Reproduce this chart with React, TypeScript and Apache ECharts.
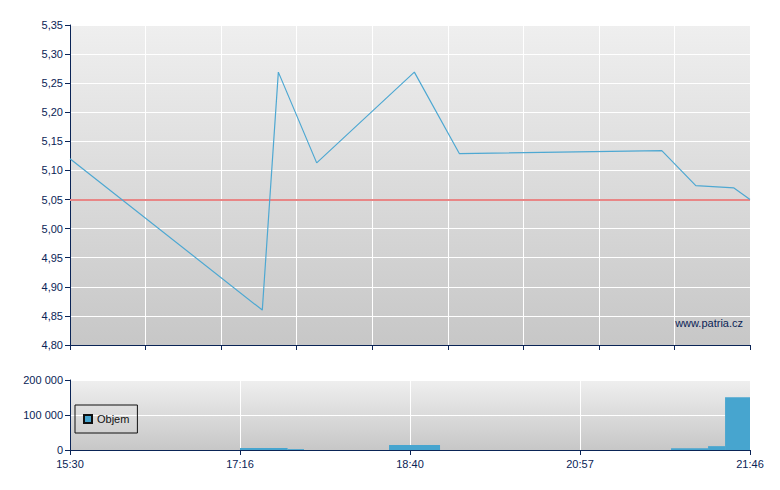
import React, { useEffect, useRef } from "react";
import * as echarts from "echarts";

// price line (x = position slot on the intraday axis, 0..36)
const priceX = [0, 10.18, 11.03, 13.06, 18.23, 20.61, 31.33, 33.13, 35.15, 36];
const priceY = [5.12, 4.86, 5.269, 5.113, 5.269, 5.129, 5.134, 5.074, 5.07, 5.05];
const referencePrice = 5.05;

// volume bars (start slot, end slot, volume)
const volStart = [9.0, 11.52, 16.89, 31.82, 33.78, 34.68];
const volEnd = [11.52, 12.39, 19.59, 33.78, 34.68, 36];
const volume = [5500, 2500, 14000, 5000, 11000, 151000];

const timeLabels = ["15:30", "17:16", "18:40", "20:57", "21:46"];

const NAVY = "#0a2456";
const FONT = "Liberation Sans";

export default function App() {
  const ref = useRef<HTMLDivElement>(null);
  useEffect(() => {
    if (!ref.current) return;
    const chart = echarts.init(ref.current, undefined, { renderer: "svg" });
    const bg = new echarts.graphic.LinearGradient(0, 0, 0, 1, [
      { offset: 0, color: "#efefef" },
      { offset: 1, color: "#c7c7c7" },
    ]);
    const bg2 = new echarts.graphic.LinearGradient(0, 0, 0, 1, [
      { offset: 0, color: "#efefef" },
      { offset: 1, color: "#c7c7c7" },
    ]);
    const axisLabelStyle = { color: NAVY, fontFamily: FONT, fontSize: 11 };
    const lineData = priceX.map((x, i) => [x, priceY[i]]);
    const volData = volume.map((v, i) => [volStart[i], volEnd[i], v]);
    chart.setOption({
      animation: false,
      textStyle: { fontFamily: FONT },
      grid: [
        { left: 70, right: 30, top: 25, height: 320, show: true, backgroundColor: bg, borderWidth: 0 },
        { left: 70, right: 30, top: 380, height: 70, show: true, backgroundColor: bg2, borderWidth: 0 },
      ],
      legend: {
        data: ["Objem"],
        left: 75,
        top: 405,
        orient: "vertical",
        borderColor: "#111",
        borderWidth: 1,
        padding: [7, 8, 7, 8],
        itemWidth: 8,
        itemHeight: 8,
        itemGap: 4,
        icon: "rect",
        textStyle: { color: "#111", fontFamily: FONT, fontSize: 11, lineHeight: 14 },
      },
      xAxis: [
        {
          type: "value",
          gridIndex: 0,
          min: 0,
          max: 36,
          interval: 4,
          axisLine: { show: true, lineStyle: { color: NAVY, width: 1 } },
          axisTick: { show: true, length: 5, lineStyle: { color: NAVY } },
          axisLabel: { show: false },
          splitLine: { show: true, lineStyle: { color: "#ffffff", width: 1 } },
        },
        {
          type: "value",
          gridIndex: 1,
          min: 0,
          max: 36,
          interval: 9,
          axisLine: { show: true, lineStyle: { color: NAVY, width: 1 } },
          axisTick: { show: true, length: 5, lineStyle: { color: NAVY } },
          axisLabel: {
            ...axisLabelStyle,
            margin: 8,
            formatter: (v: number) => timeLabels[Math.round(v / 9)] ?? "",
          },
          splitLine: { show: true, lineStyle: { color: "#ffffff", width: 1 } },
        },
      ],
      yAxis: [
        {
          type: "value",
          gridIndex: 0,
          min: 4.8,
          max: 5.35,
          interval: 0.05,
          axisLine: { show: true, lineStyle: { color: NAVY, width: 1 } },
          axisTick: { show: true, length: 5, lineStyle: { color: NAVY } },
          axisLabel: {
            ...axisLabelStyle,
            margin: 7,
            formatter: (v: number) => v.toFixed(2).replace(".", ","),
          },
          splitLine: { show: true, lineStyle: { color: "#ffffff", width: 1 } },
        },
        {
          type: "value",
          gridIndex: 1,
          min: 0,
          max: 200000,
          interval: 100000,
          axisLine: { show: true, lineStyle: { color: NAVY, width: 1 } },
          axisTick: { show: true, length: 5, lineStyle: { color: NAVY } },
          axisLabel: {
            ...axisLabelStyle,
            margin: 7,
            formatter: (v: number) => String(v).replace(/\B(?=(\d{3})+(?!\d))/g, " "),
          },
          splitLine: { show: true, lineStyle: { color: "#ffffff", width: 1 } },
        },
      ],
      series: [
        {
          name: "Cena",
          type: "line",
          xAxisIndex: 0,
          yAxisIndex: 0,
          data: lineData,
          showSymbol: false,
          symbol: "none",
          lineStyle: { color: "#4ea8d2", width: 1.2 },
          z: 5,
          markLine: {
            silent: true,
            symbol: "none",
            label: { show: false },
            lineStyle: { color: "#e88686", width: 2, type: "solid" },
            data: [{ yAxis: referencePrice }],
            z: 4,
          },
        },
        {
          name: "Objem",
          type: "custom",
          xAxisIndex: 1,
          yAxisIndex: 1,
          itemStyle: { color: "#47a5cf", borderColor: "#111", borderWidth: 1 },
          encode: { x: [0, 1], y: 2 },
          data: volData,
          renderItem: (params: any, api: any) => {
            const p0 = api.coord([api.value(0), api.value(2)]);
            const p1 = api.coord([api.value(1), 0]);
            return {
              type: "rect",
              shape: { x: p0[0], y: p0[1], width: p1[0] - p0[0], height: p1[1] - p0[1] },
              style: { fill: "#47a5cf" },
            };
          },
        },
      ],
      graphic: [
        {
          type: "text",
          right: 37,
          top: 317,
          style: { text: "www.patria.cz", fill: NAVY, font: `11px ${FONT}` },
          z: 10,
        },
      ],
    });
    return () => chart.dispose();
  }, []);
  return (
    <div
      ref={ref}
      style={{ position: "fixed", left: 0, top: 0, width: 780, height: 490, background: "#ffffff" }}
    />
  );
}
